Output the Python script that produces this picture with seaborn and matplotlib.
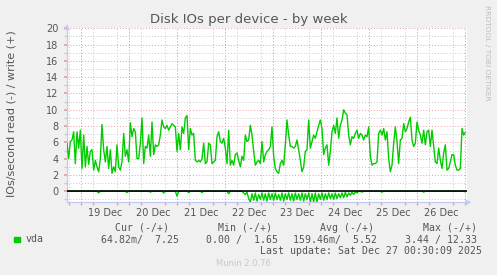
import matplotlib
matplotlib.use("Agg")
import matplotlib.pyplot as plt
import matplotlib.dates as mdates
from matplotlib.ticker import MultipleLocator
import pandas as pd
import seaborn as sns

# ---------------- data ----------------
start = "2025-12-18 17:00"
step = "50min"
x_start = "2025-12-18 17:00"
x_end = "2025-12-27 01:00"

write = [
    5.9, 4.05, 6.1, 6.3, 7.3, 3.4, 7.3, 5.3, 7.5, 2.8,
    6.9, 3.0, 5.5, 3.3, 4.9, 5.1, 2.6, 3.8, 3.0, 2.4,
    4.0, 8.2, 5.1, 3.6, 5.5, 2.8, 5.1, 2.2, 3.0, 2.4,
    5.7, 3.0, 2.6, 3.6, 7.1, 4.3, 5.1, 3.6, 8.4, 6.7,
    7.7, 7.3, 4.0, 4.0, 5.9, 9.0, 3.4, 5.5, 5.3, 6.9,
    4.3, 8.5, 4.5, 5.7, 5.5, 5.7, 6.9, 8.75, 7.9, 7.7,
    8.1, 7.5, 7.9, 8.3, 8.1, 7.9, 4.9, 7.1, 5.1, 7.9,
    7.1, 9.0, 9.3, 5.1, 7.7, 6.9, 7.1, 3.8, 3.6, 3.8,
    3.6, 4.0, 5.9, 3.4, 3.6, 5.9, 5.7, 3.4, 3.6, 3.8,
    6.7, 7.3, 6.1, 5.9, 6.5, 5.3, 3.4, 7.5, 3.2, 3.8,
    3.2, 4.5, 4.7, 3.8, 3.0, 4.3, 3.8, 6.9, 6.1, 6.3,
    8.1, 6.9, 4.9, 3.2, 3.6, 3.8, 3.4, 6.1, 3.6, 4.5,
    4.9, 5.1, 5.5, 7.9, 4.3, 2.8, 2.4, 2.2, 3.4, 3.8,
    3.2, 5.7, 8.75, 6.9, 5.5, 5.5, 5.3, 5.5, 6.3, 5.1,
    3.8, 2.4, 3.0, 4.9, 5.1, 8.75, 5.3, 6.1, 6.9, 6.5,
    7.3, 8.1, 8.75, 7.7, 4.5, 5.3, 5.7, 3.2, 4.9, 7.3,
    8.1, 7.1, 9.0, 6.5, 8.1, 8.75, 10.0, 9.6, 9.4, 6.9,
    5.7, 6.7, 6.5, 7.1, 7.5, 6.5, 7.1, 6.9, 6.3, 6.9,
    6.7, 7.9, 4.3, 3.2, 3.4, 3.4, 3.6, 7.1, 7.5, 6.9,
    7.7, 6.3, 7.3, 4.0, 2.4, 3.2, 5.9, 7.9, 6.1, 3.4,
    6.3, 6.5, 8.3, 7.3, 7.7, 8.5, 9.1, 6.3, 5.5, 5.9,
    8.5, 7.5, 6.9, 5.9, 7.5, 5.7, 7.3, 7.5, 5.5, 7.5,
    5.5, 3.6, 3.4, 5.3, 3.8, 2.8, 4.7, 5.7, 2.6, 2.8,
    3.6, 4.5, 4.5, 3.2, 2.6, 2.6, 2.8, 7.7, 6.9, 7.25,
]

read = [
    0, 0, 0, 0, 0, 0, 0, 0, 0, 0, 0, 0, 0, 0, 0, 0, 0, 0, 0, -0.2,
    0, 0, 0, 0, 0, 0, 0, 0, 0, 0, 0, 0, 0, 0, 0, 0, -0.15, 0, 0, 0,
    0, 0, 0, 0, 0, 0, 0, 0, 0, 0, -0.1, 0, 0, 0, 0, 0, 0, 0, -0.2, 0,
    0, 0, 0, 0, 0, 0, -0.6, 0, 0, 0, 0, 0, 0, -0.15, 0, 0, 0, 0, 0, 0,
    0, -0.15, 0, 0, 0, 0, 0, 0, 0, 0, 0, 0, 0, 0, 0, 0, 0, -0.3, 0, 0,
    0, 0, 0, 0, 0, 0, -0.2, -0.4, -0.1, -0.9, -1.3, -0.3, -1.1, -0.2, -1.2, -0.4, -1.0, -0.2, -1.1, -0.3,
    -1.2, -0.2, -1.0, -0.3, -1.1, -0.2, -1.0, -0.4, -1.1, -0.2, -1.2, -0.3, -1.0, -0.2, -1.1, -0.3, -1.2, -0.2, -1.0, -0.3,
    -1.1, -0.2, -1.2, -0.3, -1.0, -0.2, -1.3, -0.3, -1.3, -0.2, -1.3, -0.3, -1.0, -0.2, -1.1, -0.3, -1.0, -0.2, -0.9, -0.3,
    -1.0, -0.2, -0.9, -0.3, -0.8, -0.2, -0.8, -0.1, -0.7, -0.2, -0.5, -0.1, -0.4, -0.1, -0.2, 0, 0, -0.1, 0, 0,
    0, 0, 0, 0, 0, 0, 0, 0, 0, -0.1, 0, 0, 0, 0, 0, 0, 0, 0, 0, 0,
    0, 0, 0, 0, 0, 0, 0, 0, 0, 0, 0, 0, 0, 0, -0.1, 0, 0, 0, 0, 0,
    0, 0, 0, 0, 0, 0, 0, 0, 0, 0, 0, 0, 0, 0, 0, 0, 0, 0, 0, -0.06,
]

y_min, y_max = -1.35, 20
title = "Disk IOs per device - by week"
ylabel = "IOs/second read (-) / write (+)"
device = "vda"
headers = ["Cur (-/+)", "Min (-/+)", "Avg (-/+)", "Max (-/+)"]
stats = ["64.82m/  7.25", "0.00 /  1.65", "159.46m/  5.52", "3.44 / 12.33"]
last_update = "Last update: Sat Dec 27 00:30:09 2025"
watermark = "RRDTOOL / TOBI OETIKER"
footer = "Munin 2.0.76"

# ---------------- style ----------------
sns.set_theme(style="white")
plt.rcParams["font.family"] = ["DejaVu Sans"]

W, H = 497, 275
BG = "#F0F0F0"
GREEN = "#00CC00"
AXIS = "#C4C8F4"
TXT = "#555555"

fig = plt.figure(figsize=(W / 100, H / 100), dpi=100, facecolor=BG)


def fx(px):
    return px / W


def fy(py):
    return 1 - py / H


ax = fig.add_axes([fx(67), fy(202.3), fx(400), (202.3 - 28.3) / H])
ax.set_facecolor("white")

times = pd.date_range(start, periods=len(write), freq=step)
df = pd.DataFrame({"time": times, "write": write, "read": read})

# grid
ax.set_ylim(y_min, y_max)
ax.set_xlim(pd.Timestamp(x_start), pd.Timestamp(x_end))
ax.yaxis.set_major_locator(MultipleLocator(2))
ax.yaxis.set_minor_locator(MultipleLocator(1))
ax.xaxis.set_major_locator(mdates.HourLocator(byhour=[12]))
ax.xaxis.set_major_formatter(mdates.DateFormatter("%d %b"))
ax.xaxis.set_minor_locator(mdates.HourLocator(byhour=[0, 6, 12, 18]))

ax.grid(False)
ax.grid(which="minor", axis="both", color="#C8C8C8", linestyle=(0, (1, 2)), linewidth=0.7)
ax.grid(which="major", axis="y", color="#E8A0A0", linestyle=(0, (1, 2)), linewidth=0.7)
for d in pd.date_range("2025-12-19", "2025-12-27", freq="D"):
    ax.axvline(d, color="#E8A0A0", linestyle=(0, (1, 2)), linewidth=0.7, zorder=0.6)
ax.set_axisbelow(True)

# data
sns.lineplot(data=df, x="time", y="read", color=GREEN, linewidth=1.0, ax=ax, zorder=3)
sns.lineplot(data=df, x="time", y="write", color=GREEN, linewidth=1.0, ax=ax, zorder=3)
ax.axhline(0, color="black", linewidth=1.2, zorder=4)

ax.set_xlabel("")
ax.set_ylabel("")

# spines / ticks
for s in ["top", "right"]:
    ax.spines[s].set_visible(False)
for s in ["left", "bottom"]:
    ax.spines[s].set_color(AXIS)
    ax.spines[s].set_linewidth(0.9)

ax.tick_params(axis="y", which="major", labelsize=7, labelcolor=TXT, length=2, color="#E0A0A0", pad=4, left=True)
ax.tick_params(axis="y", which="minor", length=2, color="#CCCCCC", left=True)
ax.tick_params(axis="x", which="major", labelsize=7, labelcolor=TXT, length=0, pad=4)
ax.tick_params(axis="x", which="minor", length=2, color="#E0A0A0", bottom=True)

ax.annotate("", xy=(1.018, 0), xytext=(0.99, 0), xycoords="axes fraction",
            arrowprops=dict(arrowstyle="-|>", color=AXIS, lw=0.9, mutation_scale=7),
            annotation_clip=False)
ax.annotate("", xy=(0, 1.04), xytext=(0, 0.99), xycoords="axes fraction",
            arrowprops=dict(arrowstyle="-|>", color=AXIS, lw=0.9, mutation_scale=7),
            annotation_clip=False)

# texts
fig.text(fx(249), fy(19), title, ha="center", va="center", fontsize=9.5, color=TXT)
fig.text(fx(11.5), fy(113.5), ylabel, ha="center", va="center", rotation=90, fontsize=8, color=TXT)
fig.text(fx(487), fy(5), watermark, ha="center", va="top", rotation=270, fontsize=5.4, color="#BDBDBD")

mono = "DejaVu Sans Mono"
fig.patches.append(plt.Rectangle((fx(14), fy(242)), fx(5.5), 5.5 / H,
                                 transform=fig.transFigure, color=GREEN, figure=fig))
fig.text(fx(26), fy(239.5), device, ha="left", va="center", fontsize=7.1, family=mono, color=TXT)
hdr_right = [169, 272, 374, 477]
val_right = [179, 278, 377, 477]
for h, s, hr, vr in zip(headers, stats, hdr_right, val_right):
    fig.text(fx(hr), fy(227.7), h, ha="right", va="center", fontsize=7.1, family=mono, color=TXT)
    fig.text(fx(vr), fy(239.5), s, ha="right", va="center", fontsize=7.1, family=mono, color=TXT)
fig.text(fx(482), fy(251), last_update, ha="right", va="center", fontsize=7.1, family=mono, color=TXT)
fig.text(fx(243), fy(264), footer, ha="center", va="center", fontsize=6, color="#C8C8C8")

fig.savefig("out.png", dpi=100, facecolor=BG)
